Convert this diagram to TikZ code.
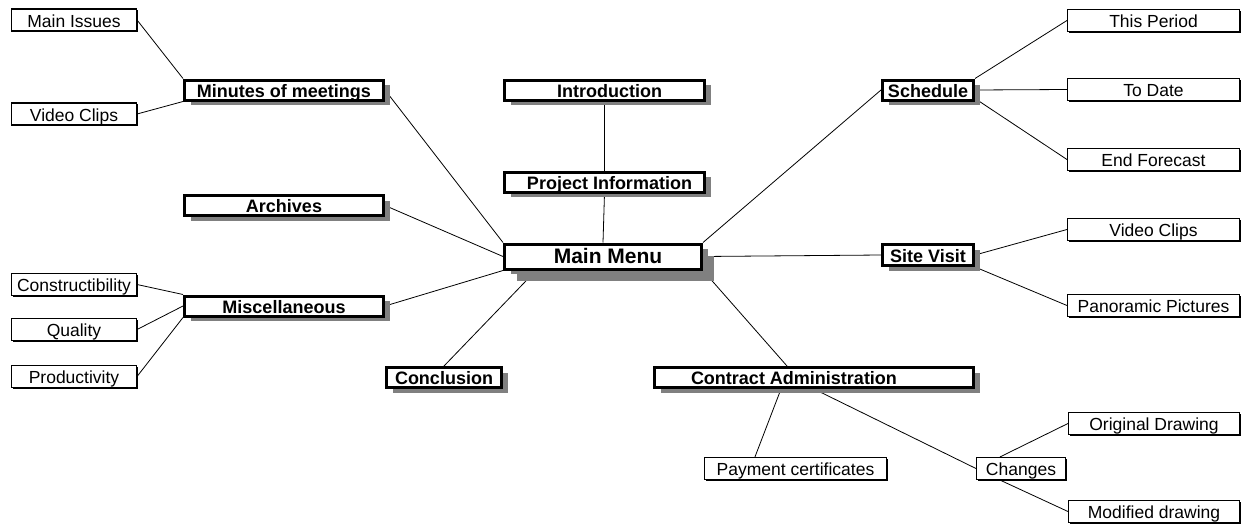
\documentclass[tikz,border=0pt]{standalone}
\usepackage{fontspec}
\setmainfont{Liberation Sans}
\usetikzlibrary{shadows,calc,backgrounds}
\begin{document}
\begin{tikzpicture}[x=1pt,y=-1pt,
  sbox/.style={draw, fill=white, line width=1.1pt, inner sep=0pt, minimum height=22,
    text height=17pt, text depth=3pt,
    font=\fontsize{17.5}{20}\selectfont,
    general shadow={fill=black, shadow xshift=1.4pt, shadow yshift=-1.4pt}},
  bbox/.style={draw, fill=white, line width=3pt, inner sep=0pt, minimum height=19,
    text height=17pt, text depth=3pt,
    font=\bfseries\fontsize{18}{20}\selectfont,
    general shadow={fill=black!50, shadow xshift=6pt, shadow yshift=-5pt}},
  conn/.style={line width=0.8pt}]
\useasboundingbox (0,0) rectangle (1251,525);
% nodes
\node[sbox, minimum width=125] (mi) at (74,20) {Main Issues};
\node[sbox, minimum width=125] (vcl) at (74,114) {Video Clips};
\node[sbox, minimum width=125] (con) at (74,284.5) {Constructibility};
\node[sbox, minimum width=125] (qua) at (74,329.5) {Quality};
\node[sbox, minimum width=125] (pro) at (74,376.5) {Productivity};
\node[sbox, minimum width=172] (tp) at (1153.5,20.5) {This Period};
\node[sbox, minimum width=172] (td) at (1153.5,89.5) {To Date};
\node[sbox, minimum width=172] (ef) at (1153.5,159.5) {End Forecast};
\node[sbox, minimum width=172] (vcr) at (1153.5,229.5) {Video Clips};
\node[sbox, minimum width=172] (pp) at (1153.5,305.5) {Panoramic Pictures};
\node[sbox, minimum width=171] (od) at (1154,423.5) {Original Drawing};
\node[sbox, minimum width=171] (md) at (1154,511.5) {Modified drawing};
\node[sbox, minimum width=89] (ch) at (1021,468.5) {Changes};
\node[sbox, minimum width=182] (pc) at (795.5,468.5) {Payment certificates};
\node[bbox, minimum width=199] (mom) at (284,90) {Minutes of meetings};
\node[bbox, minimum width=200] (intro) at (604.5,90) {\hspace*{10pt}Introduction};
\node[bbox, minimum width=200] (pi) at (604.5,182) {\hspace*{10pt}Project Information};
\node[bbox, minimum width=199] (arc) at (284,205.5) {Archives};
\node[bbox, minimum width=199] (misc) at (284,306) {Miscellaneous};
\node[bbox, minimum width=115, minimum height=20] (concl) at (444,377.5) {Conclusion};
\node[bbox, minimum width=319, minimum height=20] (ca) at (814,377.5) {\hspace*{-40pt}Contract Administration};
\node[bbox, minimum width=91] (sch) at (928,90) {Schedule};
\node[bbox, minimum width=91, minimum height=21] (sv) at (928,255) {Site Visit};
\node[bbox, minimum width=197, minimum height=24, text height=19pt, text depth=6pt,
  font=\bfseries\fontsize{21}{24}\selectfont,
  general shadow={fill=black!50, shadow xshift=12pt, shadow yshift=-12pt}] (mm) at (603,256.5) {\hspace*{10pt}Main Menu};
% connectors (behind the boxes)
\begin{pgfonlayer}{background}
\begin{scope}[conn]
\draw (mi.east) -- (mom.north west);
\draw (vcl.east) -- (mom.south west);
\draw (mom.east) -- (mm.north west);
\draw (intro.south) -- (pi.north);
\draw (pi.south) -- (mm.north);
\draw (arc.east) -- (mm.west);
\draw (misc.east) -- (mm.south west);
\draw (con.east) -- (misc.north west);
\draw (qua.east) -- (misc.west);
\draw (pro.east) -- (misc.south west);
\draw (concl.north) -- ($(mm.south west)+(33,0)$);
\draw (mm.north east) -- (sch.west);
\draw (sch.north east) -- (tp.west);
\draw (sch.east) -- (td.west);
\draw ($(sch.south east)+(0,-3)$) -- (ef.west);
\draw (mm.east) -- (sv.west);
\draw (sv.east) -- (vcr.west);
\draw (sv.south east) -- (pp.west);
\draw (mm.south east) -- ($(ca.north west)+(134,0)$);
\draw ($(ca.south west)+(128,0)$) -- ($(pc.north west)+(51,0)$);
\draw (ca.south) -- (ch.west);
\draw ($(ch.north west)+(24,0)$) -- (od.west);
\draw ($(ch.south west)+(24,0)$) -- (md.west);
\end{scope}
\end{pgfonlayer}
\end{tikzpicture}
\end{document}
